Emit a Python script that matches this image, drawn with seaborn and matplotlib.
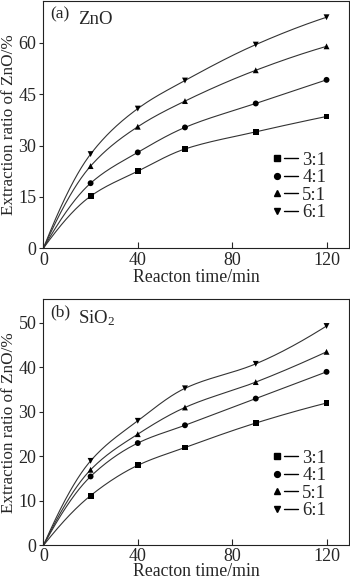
import numpy as np
import pandas as pd
import seaborn as sns
import matplotlib
matplotlib.use("Agg")
import matplotlib.pyplot as plt
from matplotlib.lines import Line2D
from matplotlib.legend_handler import HandlerTuple

# Reaction time (min) and extraction ratios (%) for each liquid/solid ratio
time_min = [0, 20, 40, 60, 90, 120]
ratios = ["3:1", "4:1", "5:1", "6:1"]

zno_3 = [0, 15.2, 22.5, 29.0, 34.0, 38.5]
zno_4 = [0, 19.0, 28.0, 35.3, 42.3, 49.2]
zno_5 = [0, 24.0, 35.5, 43.0, 52.0, 59.0]
zno_6 = [0, 27.5, 40.8, 49.0, 59.5, 67.5]

sio2_3 = [0, 11.2, 18.0, 22.0, 27.5, 32.0]
sio2_4 = [0, 15.5, 23.0, 27.0, 33.0, 39.0]
sio2_5 = [0, 17.0, 25.0, 31.0, 36.7, 43.5]
sio2_6 = [0, 19.0, 28.0, 35.3, 40.8, 49.3]

x_ticks = [0, 40, 80, 120]
zno_ticks = [0, 15, 30, 45, 60]
sio2_ticks = [0, 10, 20, 30, 40, 50]

markers = {"3:1": "s", "4:1": "o", "5:1": "^", "6:1": "v"}

sns.set_theme(style="ticks")
plt.rcParams["font.family"] = ["Liberation Serif", "DejaVu Serif"]
plt.rcParams["mathtext.fontset"] = "custom"
plt.rcParams["mathtext.rm"] = "Liberation Serif"
plt.rcParams["mathtext.it"] = "Liberation Serif:italic"


def pchip(x, y, xs):
    """Shape-preserving cubic through the measured points (Fritsch-Carlson)."""
    x = np.asarray(x, float)
    y = np.asarray(y, float)
    h = np.diff(x)
    d = np.diff(y) / h
    n = len(x)
    m = np.zeros(n)
    for k in range(1, n - 1):
        if d[k - 1] * d[k] > 0:
            w1 = 2 * h[k] + h[k - 1]
            w2 = h[k] + 2 * h[k - 1]
            m[k] = (w1 + w2) / (w1 / d[k - 1] + w2 / d[k])
    m[0] = ((2 * h[0] + h[1]) * d[0] - h[0] * d[1]) / (h[0] + h[1])
    if np.sign(m[0]) != np.sign(d[0]):
        m[0] = 0
    m[-1] = ((2 * h[-1] + h[-2]) * d[-1] - h[-1] * d[-2]) / (h[-1] + h[-2])
    if np.sign(m[-1]) != np.sign(d[-1]):
        m[-1] = 0
    idx = np.clip(np.searchsorted(x, xs) - 1, 0, n - 2)
    t = (xs - x[idx]) / h[idx]
    h00 = 2 * t**3 - 3 * t**2 + 1
    h10 = t**3 - 2 * t**2 + t
    h01 = -2 * t**3 + 3 * t**2
    h11 = t**3 - t**2
    return (h00 * y[idx] + h10 * h[idx] * m[idx]
            + h01 * y[idx + 1] + h11 * h[idx] * m[idx + 1])


def panel(ax, series, yticks, ymax, tag, title, xlabel_pad, xtick_pad):
    pts = pd.DataFrame(
        [(t, v, r) for r, vals in zip(ratios, series) for t, v in zip(time_min, vals)],
        columns=["time", "ratio_pct", "ratio"],
    )
    xs = np.linspace(0, 120, 300)
    curves = pd.DataFrame(
        [(t, v, r) for r, vals in zip(ratios, series)
         for t, v in zip(xs, pchip(time_min, vals, xs))],
        columns=["time", "ratio_pct", "ratio"],
    )
    sns.lineplot(data=curves, x="time", y="ratio_pct", units="ratio",
                 estimator=None, color="#333333", lw=0.8, ax=ax, legend=False)
    sns.scatterplot(data=pts[pts["time"] > 0], x="time", y="ratio_pct",
                    style="ratio", markers=markers, color="black", s=18,
                    edgecolor="none", ax=ax, legend=False, zorder=3)
    ax.set_xlim(0, 129.5)
    ax.set_ylim(0, ymax)
    ax.set_xticks(x_ticks)
    ax.set_yticks(yticks)
    ax.tick_params(axis="x", direction="in", length=4, width=0.8, labelsize=13, pad=xtick_pad)
    ax.tick_params(axis="y", direction="out", length=3, width=0.8, labelsize=13, pad=2)
    for s in ax.spines.values():
        s.set_linewidth(0.8)
        s.set_color("#222222")
    ax.set_xlabel("Reacton time/min", fontsize=12.8, labelpad=xlabel_pad)
    ax.set_ylabel("Extraction ratio of ZnO/%", fontsize=12.3, labelpad=1)
    ax.text(0.022, 0.978, tag, transform=ax.transAxes, fontsize=12.5, va="top", ha="left")
    ax.text(0.112, 0.962, title, transform=ax.transAxes, fontsize=13.5, va="top", ha="left")

    handles = [(Line2D([], [], ls="none", marker=markers[r], color="black", ms=4.2),
                Line2D([], [], color="black", lw=1.0)) for r in ratios]
    ax.legend(handles, ratios, handler_map={tuple: HandlerTuple(ndivide=None, pad=0.0)},
              loc="upper left", bbox_to_anchor=(0.74, 0.39), frameon=False,
              fontsize=13.5, handlelength=1.5, handletextpad=0.25,
              labelspacing=0.02, borderpad=0, borderaxespad=0)


fig = plt.figure(figsize=(3.5, 5.84), dpi=100)
ax1 = fig.add_axes([0.124, 0.575, 0.873, 0.423])
ax2 = fig.add_axes([0.124, 0.066, 0.873, 0.4215])

panel(ax1, [zno_3, zno_4, zno_5, zno_6], zno_ticks, 72.2, "(a)", "ZnO", 0, 3)
panel(ax2, [sio2_3, sio2_4, sio2_5, sio2_6], sio2_ticks, 55.3, "(b)", "SiO$_2$", -1.0, 1.5)

fig.savefig("out.png", dpi=100)
